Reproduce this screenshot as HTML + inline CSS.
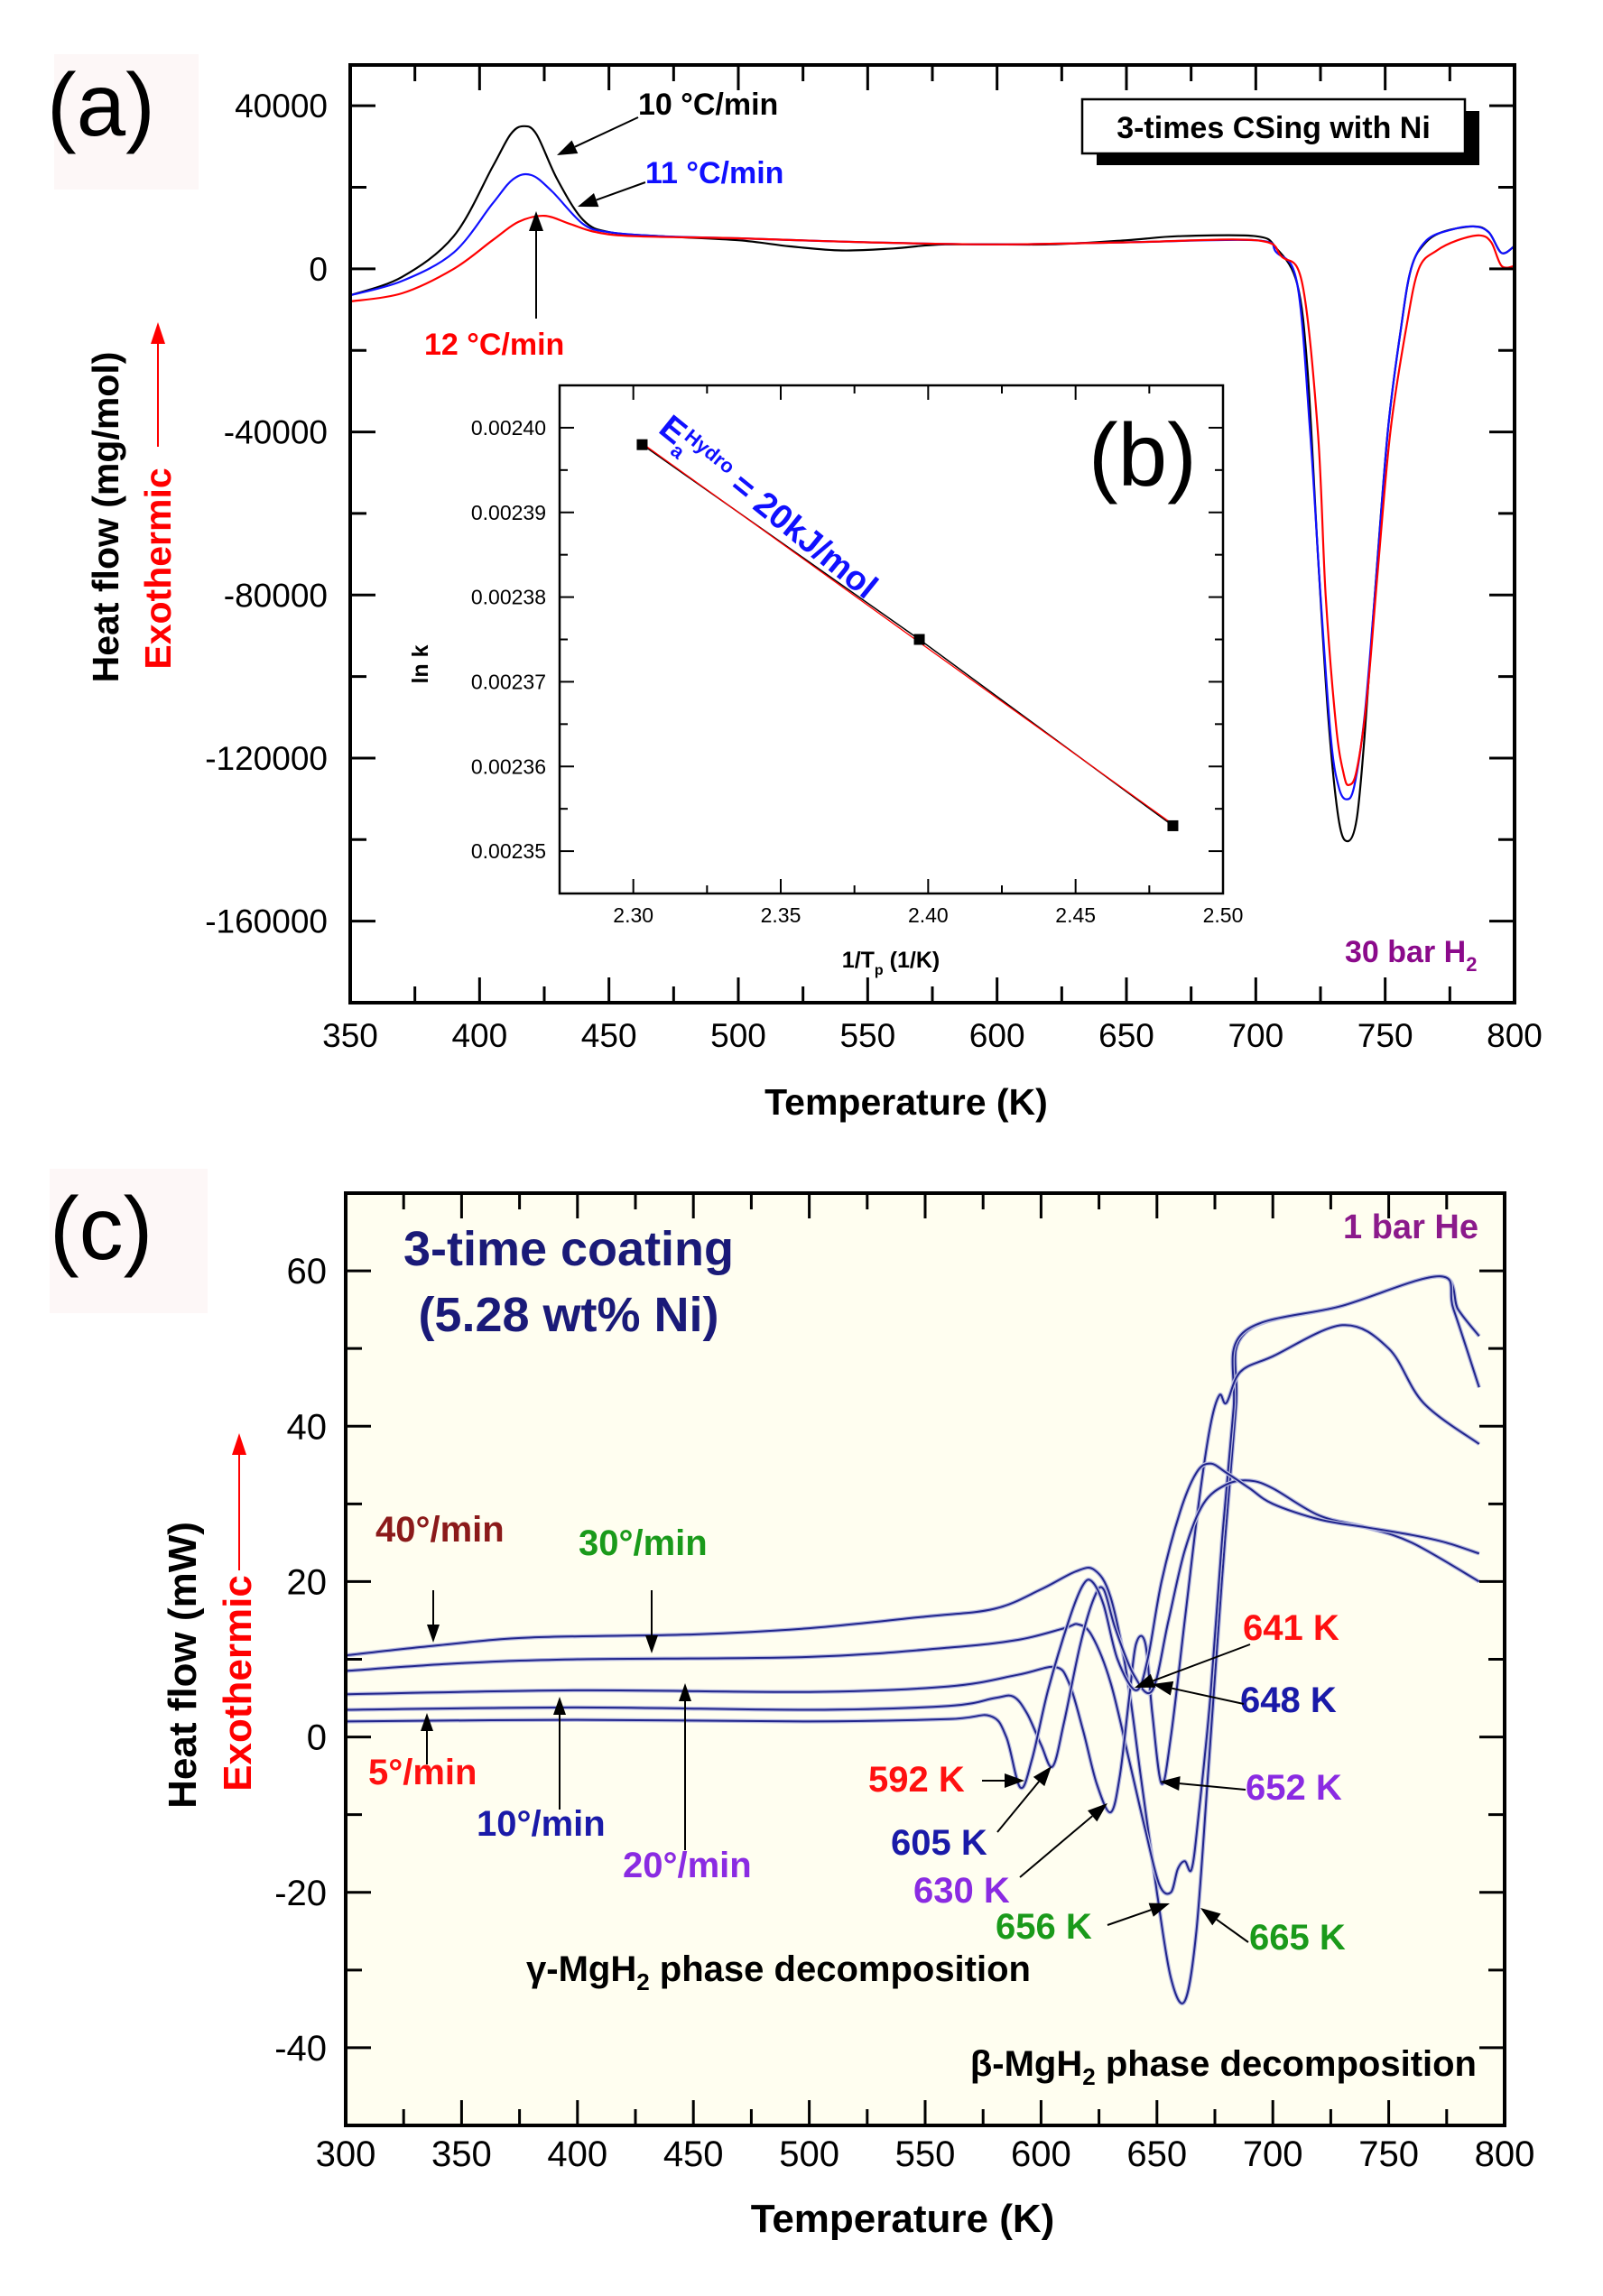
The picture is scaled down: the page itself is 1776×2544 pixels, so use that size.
<!DOCTYPE html>
<html><head><meta charset="utf-8"><style>
html,body{margin:0;padding:0;background:#fff}
svg{display:block}
text{font-family:"Liberation Sans",Arial,sans-serif}
</style></head><body>
<svg id="root" xmlns="http://www.w3.org/2000/svg" width="1776" height="2544" viewBox="0 0 1776 2544">
<rect x="60" y="60" width="160" height="150" fill="#fdf7f7"/>
<rect x="55" y="1295" width="175" height="160" fill="#fdf7f7"/>
<g id="pa"></g>
<g id="pb"></g>
<g id="pc"></g>
</svg>
<script>
// ---------- Panel (a) data ----------
const aT_black=[350,370,390,405,412,417,422,430,440,450,470,500,520,540,560,580,620,650,670,700,708,716,720,724,728,732,735.5,739,742,746,751,756,760,765,772,784,790,795,800];
const aV_black=[-6500,-2000,8000,25000,33000,35000,33000,22000,12000,9000,8000,7000,5500,4500,5000,6000,6000,7000,8000,8000,5000,-3700,-25000,-70000,-110000,-135000,-140400,-135000,-115000,-80000,-40000,-15000,0,6000,9000,10400,9000,3900,5600];
const aT_blue=[350,370,390,405,413,420,428,440,450,470,500,550,600,650,700,708,716,721,725,729,732,735,738,742,746,751,756,760,766,775,784,790,795,800];
const aV_blue=[-6500,-3000,4000,16000,22000,23000,19000,11000,9000,8000,7500,6500,6000,6500,7000,4000,-3700,-40000,-80000,-115000,-127000,-130100,-127000,-110000,-80000,-40000,-15000,0,7000,9500,10400,9000,3900,5600];
const aT_red=[350,370,390,405,415,425,435,445,460,500,550,600,650,700,710,718,724,727,731,734,736,739,743,747,752,758,763,770,778,786.5,791,795,800];
const aV_red=[-8000,-6000,0,7000,11500,13000,11000,9000,8000,7500,6500,6000,6500,7000,3000,-3700,-40000,-80000,-112000,-124000,-126600,-123000,-105000,-75000,-40000,-15000,0,4500,7000,8200,6500,700,700];
const aXTicks=[350,400,450,500,550,600,650,700,750,800];
const aYTicks=[40000,0,-40000,-80000,-120000,-160000];
// ---------- Inset (b) data ----------
const bX=[2.303,2.397,2.483];
const bY=[0.002398,0.002375,0.002353];
const bXTicks=["2.30","2.35","2.40","2.45","2.50"];
const bYTicks=["0.00240","0.00239","0.00238","0.00237","0.00236","0.00235"];
// ---------- Panel (c) data ----------
const cT_40=[300,340,380,450,500,550,580,600,615,623,630,637,643,650,656,662,667,672,678,684,688,730,772,780,789];
const cV_40=[10.5,11.8,12.8,13.2,14,15.5,16.5,19,21.3,21.5,18,8,-5,-20,-31,-34,-25,-5,20,42,52,55.5,59.3,55,51.6];
const cT_30=[300,350,400,500,560,590,610,616,622,630,638,645,651,656,659,662,665,668,673,678,683,687,730,772,778,789];
const cV_30=[8.5,9.5,10,10.3,11.5,12.5,14,14.5,13,7,-3,-12,-19,-20,-17,-16,-17,-10,5,25,42,52,55.5,59.3,55,45];
const cT_20=[300,400,500,560,590,606,612,618,624,630,634,638,641,645,648,652,656,662,668,673,677,680,686,700,730,750,765,789];
const cV_20=[5.5,6,5.8,6.5,8,9,7,1,-6,-9.7,-5,5,12,12,3,-6,0,15,30,40,44,43,47,49,53,50,43,37.7];
const cT_10=[300,400,500,560,580,588,594,600,605,610,617,623,627,632,640,648,655,662,670,680,690,700,720,740,760,789];
const cV_10=[3.5,3.8,3.5,4,5,5.2,3,-1,-3.8,2,12,18,19,14,8,6,15,24,30,32.5,33,32,28.5,27,25,20];
const cT_5=[300,400,500,560,578,585,591,596,603,612,618,622,627,633,641,646,652,660,667,673,680,690,700,720,740,760,775,789];
const cV_5=[2,2.2,2,2.3,2.7,0,-6.5,-3,6,15,19.5,20,17,10,6,10,20,29,34,35.2,34,32,30,28,27,26,25,23.6];
const cXTicks=[300,350,400,450,500,550,600,650,700,750,800];
const cYTicks=[60,40,20,0,-20,-40];

const NS="http://www.w3.org/2000/svg";
function mk(parent,tag,attrs,txt){const e=document.createElementNS(NS,tag);for(const k in attrs)e.setAttribute(k,attrs[k]);if(txt!==undefined)e.textContent=txt;parent.appendChild(e);return e;}
function lin(d0,d1,p0,p1){return v=>p0+(v-d0)/(d1-d0)*(p1-p0);}

function frameAndTicks(g,L,R,T,B,sx,sy,xMaj,xMin,yMaj,yMin,maj,mn,sw){
  for(const v of xMin){const x=sx(v);
    const t1=mk(g,'line',{x1:x,y1:B,x2:x,y2:B-mn,stroke:'#000','stroke-width':sw});
    
    const t2=mk(g,'line',{x1:x,y1:T,x2:x,y2:T+mn,stroke:'#000','stroke-width':sw});
    }
  for(const v of xMaj){const x=sx(v);
    const t1=mk(g,'line',{x1:x,y1:B,x2:x,y2:B-maj,stroke:'#000','stroke-width':sw});
    
    const t2=mk(g,'line',{x1:x,y1:T,x2:x,y2:T+maj,stroke:'#000','stroke-width':sw});
    }
  for(const v of yMin){const y=sy(v);
    const t1=mk(g,'line',{x1:L,y1:y,x2:L+mn,y2:y,stroke:'#000','stroke-width':sw});
    
    const t2=mk(g,'line',{x1:R,y1:y,x2:R-mn,y2:y,stroke:'#000','stroke-width':sw});
    }
  for(const v of yMaj){const y=sy(v);
    const t1=mk(g,'line',{x1:L,y1:y,x2:L+maj,y2:y,stroke:'#000','stroke-width':sw});
    
    const t2=mk(g,'line',{x1:R,y1:y,x2:R-maj,y2:y,stroke:'#000','stroke-width':sw});
    }
}
function arrow(g,x1,y1,x2,y2,col,name,hw,hl){
  hw=hw||9;hl=hl||26;
  const dx=x2-x1,dy=y2-y1,len=Math.hypot(dx,dy),ux=dx/len,uy=dy/len;
  const bx=x2-ux*hl,by=y2-uy*hl;
  const l=mk(g,'line',{x1:x1,y1:y1,x2:bx,y2:by,stroke:col,'stroke-width':2});
  
  const p=mk(g,'polygon',{points:`${x2},${y2} ${bx-uy*hw},${by+ux*hw} ${bx+uy*hw},${by-ux*hw}`,fill:col});
  
}
function txt(g,x,y,s,opts,name){const t=mk(g,'text',Object.assign({x:x,y:y},opts),s);
  return t;}
function range(a,b,st){const r=[];for(let v=a;v<=b+1e-12;v+=st)r.push(+v.toFixed(10));return r;}
function pathOf(xs,ys,sx,sy){
  const P=xs.map((x,i)=>[sx(x),sy(ys[i])]);
  let d='M'+P[0][0].toFixed(1)+','+P[0][1].toFixed(1);
  for(let i=0;i<P.length-1;i++){
    const p0=P[Math.max(0,i-1)],p1=P[i],p2=P[i+1],p3=P[Math.min(P.length-1,i+2)];
    const c1x=p1[0]+(p2[0]-p0[0])/6,c1y=p1[1]+(p2[1]-p0[1])/6;
    const c2x=p2[0]-(p3[0]-p1[0])/6,c2y=p2[1]-(p3[1]-p1[1])/6;
    d+=' C'+c1x.toFixed(1)+','+c1y.toFixed(1)+' '+c2x.toFixed(1)+','+c2y.toFixed(1)+' '+p2[0].toFixed(1)+','+p2[1].toFixed(1);
  }
  return d;
}

// ===== Panel A =====
(function(){
const g=document.getElementById('pa');
const L=388,R=1678,T=72,B=1111;
const sx=lin(350,800,L,R), sy=lin(50000,-180000,T,B);
mk(g,'rect',{x:L,y:T,width:R-L,height:B-T,fill:'#fff'});
const series=[[aT_black,aV_black,'#000','curve-10C'],[aT_blue,aV_blue,'#1010ff','curve-11C'],[aT_red,aV_red,'#ff0000','curve-12C']];
for(const s of series){const p=mk(g,'path',{d:pathOf(s[0],s[1],sx,sy),fill:'none',stroke:s[2],'stroke-width':2.2,'stroke-linejoin':'round'});
  }
frameAndTicks(g,L,R,T,B,sx,sy,aXTicks,range(375,775,50),aYTicks,[20000,-20000,-60000,-100000,-140000,-180000],28,18,3);
const fr=mk(g,'rect',{x:L,y:T,width:R-L,height:B-T,fill:'none',stroke:'#000','stroke-width':4});

for(const v of aXTicks)txt(g,sx(v),1160,String(v),{'font-size':37,'text-anchor':'middle'},'x-tick-label');
for(const v of aYTicks)txt(g,363,sy(v)+13,String(v),{'font-size':37,'text-anchor':'end'},'y-tick-label');
txt(g,1004,1235,'Temperature (K)',{'font-size':41,'font-weight':'bold','text-anchor':'middle'},'x-axis-title');
txt(g,0,0,'Heat flow (mg/mol)',{'font-size':41,'font-weight':'bold','text-anchor':'middle',transform:'translate(131,573) rotate(-90)'},'y-axis-title');
txt(g,0,0,'Exothermic',{'font-size':41,'font-weight':'bold','text-anchor':'middle',fill:'#ff0000',transform:'translate(189,630) rotate(-90)'},'exothermic-label');
arrow(g,175,495,175,357,'#ff0000','exothermic-arrow',8,24);
txt(g,52,150,'(a)',{'font-size':98},'panel-a-label');
mk(g,'rect',{x:1215,y:123,width:424,height:60,fill:'#000'});
const bx=mk(g,'rect',{x:1199,y:110,width:424,height:60,fill:'#fff',stroke:'#000','stroke-width':2.5});

txt(g,1411,153,'3-times CSing with Ni',{'font-size':34,'font-weight':'bold','text-anchor':'middle'},'sample-label');
txt(g,707,127,'10 \u00B0C/min',{'font-size':34,'font-weight':'bold'},'label-10C');
txt(g,715,203,'11 \u00B0C/min',{'font-size':34,'font-weight':'bold',fill:'#1010ff'},'label-11C');
txt(g,470,393,'12 \u00B0C/min',{'font-size':34,'font-weight':'bold',fill:'#ff0000'},'label-12C');
arrow(g,707,130,617,172,'#000','arrow-10C',8,22);
arrow(g,715,202,640,229,'#000','arrow-11C',8,22);
arrow(g,594,353,594,234,'#000','arrow-12C',8,22);
const t30=txt(g,1652,1066,'30 bar H',{'font-size':34,'font-weight':'bold','text-anchor':'end',fill:'#8b0a8b'},'pressure-label');
t30.setAttribute('text-anchor','start');t30.setAttribute('x',1490);
mk(t30,'tspan',{'font-size':22,dy:10},'2');
})();

// ===== Inset B =====
(function(){
const g=document.getElementById('pb');
const L=620,R=1355,T=427,B=990;
const sx=lin(2.275,2.50,L,R), sy=lin(0.002405,0.002345,T,B);
mk(g,'rect',{x:L,y:T,width:R-L,height:B-T,fill:'#fff'});
const xm=bXTicks.map(Number), ym=bYTicks.map(Number);
frameAndTicks(g,L,R,T,B,sx,sy,xm,[2.275,2.325,2.375,2.425,2.475],ym,[0.002355,0.002365,0.002375,0.002385,0.002395,0.002345,0.002405],16,9,2);
const fr=mk(g,'rect',{x:L,y:T,width:R-L,height:B-T,fill:'none',stroke:'#000','stroke-width':2.5});

const blk=mk(g,'polyline',{points:bX.map((x,i)=>sx(x)+','+sy(bY[i])).join(' '),fill:'none',stroke:'#000','stroke-width':1.5});

const n=bX.length;let mx=0,my=0;for(let i=0;i<n;i++){mx+=bX[i]/n;my+=bY[i]/n;}
let sxy=0,sxx=0;for(let i=0;i<n;i++){sxy+=(bX[i]-mx)*(bY[i]-my);sxx+=(bX[i]-mx)**2;}
const sl=sxy/sxx, ic=my-sl*mx;
const fit=mk(g,'line',{x1:sx(bX[0]),y1:sy(sl*bX[0]+ic),x2:sx(bX[n-1]),y2:sy(sl*bX[n-1]+ic),stroke:'#ff0000','stroke-width':1.3});

for(let i=0;i<n;i++){const m=mk(g,'rect',{x:sx(bX[i])-6,y:sy(bY[i])-6,width:12,height:12,fill:'#000'});
  }
for(const s of bXTicks)txt(g,sx(+s),1022,s,{'font-size':23,'text-anchor':'middle'},'inset-x-tick-label');
for(const s of bYTicks)txt(g,605,sy(+s)+8,s,{'font-size':23,'text-anchor':'end'},'inset-y-tick-label');
const xt=txt(g,987,1072,'1/T',{'font-size':25,'font-weight':'bold','text-anchor':'middle'},'inset-x-axis-title');
mk(xt,'tspan',{'font-size':16,dy:8},'p');mk(xt,'tspan',{dy:-8},' (1/K)');
txt(g,0,0,'ln k',{'font-size':25,'font-weight':'bold','text-anchor':'middle',transform:'translate(474,736) rotate(-90)'},'inset-y-axis-title');
txt(g,1206,538,'(b)',{'font-size':98},'panel-b-label');
const et=txt(g,0,0,'E',{'font-size':38,'font-weight':'bold',fill:'#1010ff',transform:'translate(728,478) rotate(39)'},'activation-energy-label');
mk(et,'tspan',{'font-size':22,dy:10},'a');mk(et,'tspan',{'font-size':22,dy:-22,dx:-10},'Hydro');mk(et,'tspan',{dy:12},' = 20kJ/mol');
})();

// ===== Panel C =====
(function(){
const g=document.getElementById('pc');
const L=383,R=1667,T=1322,B=2355;
const sx=lin(300,800,L,R), sy=lin(70,-50,T,B);
const bg=mk(g,'rect',{x:L,y:T,width:R-L,height:B-T,fill:'#fffef0'});

const series=[[cT_40,cV_40,'curve-40C-min'],[cT_30,cV_30,'curve-30C-min'],[cT_20,cV_20,'curve-20C-min'],[cT_10,cV_10,'curve-10C-min'],[cT_5,cV_5,'curve-5C-min']];
for(const s of series){
  const h=mk(g,'path',{d:pathOf(s[0],s[1],sx,sy),fill:'none',stroke:'#b8bbe0','stroke-width':4.5,'stroke-linejoin':'round'});
  
  const p=mk(g,'path',{d:pathOf(s[0],s[1],sx,sy),fill:'none',stroke:'#22268c','stroke-width':2,'stroke-linejoin':'round'});
  }
frameAndTicks(g,L,R,T,B,sx,sy,cXTicks,range(325,775,50),cYTicks,[70,50,30,10,-10,-30,-50],28,18,3);
const fr=mk(g,'rect',{x:L,y:T,width:R-L,height:B-T,fill:'none',stroke:'#000','stroke-width':4});

for(const v of cXTicks)txt(g,sx(v),2400,String(v),{'font-size':40,'text-anchor':'middle'},'x-tick-label');
for(const v of cYTicks)txt(g,362,sy(v)+14,String(v),{'font-size':40,'text-anchor':'end'},'y-tick-label');
txt(g,1000,2473,'Temperature (K)',{'font-size':44,'font-weight':'bold','text-anchor':'middle'},'x-axis-title');
txt(g,0,0,'Heat flow (mW)',{'font-size':44,'font-weight':'bold','text-anchor':'middle',transform:'translate(217,1845) rotate(-90)'},'y-axis-title');
txt(g,0,0,'Exothermic',{'font-size':44,'font-weight':'bold','text-anchor':'middle',fill:'#ff0000',transform:'translate(278,1865) rotate(-90)'},'exothermic-label');
arrow(g,265,1740,265,1588,'#ff0000','exothermic-arrow',8,24);
txt(g,55,1395,'(c)',{'font-size':98},'panel-c-label');
txt(g,630,1402,'3-time coating',{'font-size':54,'font-weight':'bold','text-anchor':'middle',fill:'#1a1a78'},'sample-title');
txt(g,630,1475,'(5.28 wt% Ni)',{'font-size':54,'font-weight':'bold','text-anchor':'middle',fill:'#1a1a78'},'sample-subtitle');
txt(g,1638,1372,'1 bar He',{'font-size':38,'font-weight':'bold','text-anchor':'end',fill:'#8b1a8b'},'atmosphere-label');
const rl=[['40\u00B0/min',416,1708,'#8b1a1a','label-40'],['30\u00B0/min',641,1723,'#1a9a1a','label-30'],['5\u00B0/min',408,1977,'#ff1010','label-5'],['10\u00B0/min',528,2034,'#1a1aa8','label-10'],['20\u00B0/min',690,2080,'#8a2be2','label-20']];
for(const r of rl){txt(g,r[1],r[2],r[0],{'font-size':40,'font-weight':'bold',fill:r[3]},r[4]);}
arrow(g,480,1762,480,1820,'#000','arrow-40',7,20);
arrow(g,722,1762,722,1832,'#000','arrow-30',7,20);
arrow(g,473,1955,473,1898,'#000','arrow-5',7,20);
arrow(g,620,2005,620,1880,'#000','arrow-10',7,20);
arrow(g,759,2050,759,1865,'#000','arrow-20',7,20);
const kl=[['592 K',962,1985,'#ff1010'],['605 K',987,2055,'#1a1aa8'],['630 K',1012,2108,'#8a2be2'],['656 K',1103,2148,'#1a9a1a'],['641 K',1377,1817,'#ff1010'],['648 K',1374,1897,'#1a1aa8'],['652 K',1380,1994,'#8a2be2'],['665 K',1384,2160,'#1a9a1a']];
for(const k of kl)txt(g,k[1],k[2],k[0],{'font-size':40,'font-weight':'bold',fill:k[3]},'peak-label-'+k[0].replace(' ','').toLowerCase());
arrow(g,1088,1973,1135,1973,'#000','arrow-592',8,22);
arrow(g,1105,2030,1165,1957,'#000','arrow-605',8,22);
arrow(g,1130,2080,1227,1998,'#000','arrow-630',8,22);
arrow(g,1227,2133,1296,2109,'#000','arrow-656',8,22);
arrow(g,1385,1822,1257,1870,'#000','arrow-641',8,22);
arrow(g,1378,1888,1277,1866,'#000','arrow-648',8,22);
arrow(g,1380,1983,1285,1974,'#000','arrow-652',8,22);
arrow(g,1383,2152,1330,2114,'#000','arrow-665',8,22);
const gm=txt(g,583,2195,'\u03B3-MgH',{'font-size':40,'font-weight':'bold'},'gamma-phase-label');
mk(gm,'tspan',{'font-size':26,dy:10},'2');mk(gm,'tspan',{dy:-10},' phase decomposition');
const bm=txt(g,1636,2300,'\u03B2-MgH',{'font-size':40,'font-weight':'bold','text-anchor':'end'},'beta-phase-label');
mk(bm,'tspan',{'font-size':26,dy:10},'2');mk(bm,'tspan',{dy:-10},' phase decomposition');
})();
</script>
</body></html>
